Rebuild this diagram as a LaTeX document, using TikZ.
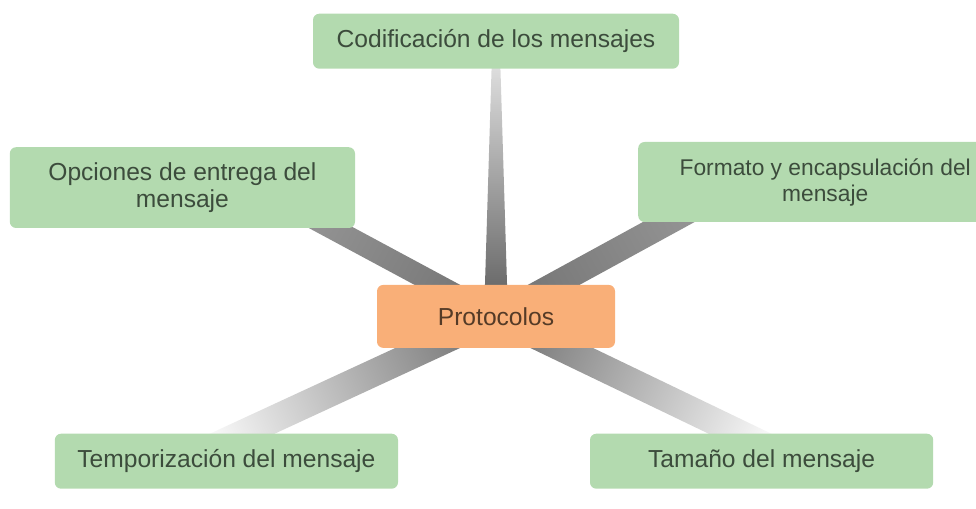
\documentclass[tikz,border=0pt]{standalone}
\usepackage{fontspec}
\setmainfont{Liberation Sans}
\usetikzlibrary{calc,backgrounds}

\definecolor{boxgreen}{HTML}{B3DAAF}
\definecolor{txtgreen}{HTML}{3C4C3C}
\definecolor{hubfill}{HTML}{F9AF78}
\definecolor{txthub}{HTML}{553B27}

\tikzset{
  tema/.style={fill=boxgreen, rounded corners=4.5pt, align=center, inner sep=0pt,
    text=txtgreen, font=\fontsize{17.5}{19.5}\selectfont},
  centro/.style={fill=hubfill, rounded corners=4.5pt, inner sep=0pt,
    text=txthub, font=\fontsize{17.5}{19.5}\selectfont}
}

% wedge from #2 to #3, half widths #4 and #5
\newcommand{\spoke}[5]{%
  \shade[#1] ($(#2)!#4!90:(#3)$) -- ($(#3)!#5!-90:(#2)$)
    -- ($(#3)!#5!90:(#2)$) -- ($(#2)!#4!-90:(#3)$) -- cycle;}

\begin{document}
\begin{tikzpicture}
  \useasboundingbox (0,0) rectangle (24.4,12.7);

  \node[centro, minimum width=5.95cm, minimum height=1.575cm] (hub) at (12.4,4.79) {Protocolos};

  \node[tema, minimum width=9.15cm, minimum height=1.375cm] (cod) at (12.4,11.67) {Codificación de los mensajes};
  \node[tema, minimum width=8.63cm, minimum height=2.02cm] (opc) at (4.56,8.01) {Opciones de entrega del\\mensaje};
  \node[tema, minimum width=9.35cm, minimum height=2.0cm, font=\fontsize{16.2}{18.5}\selectfont] (fmt) at (20.63,8.15) {Formato y encapsulación del\\mensaje};
  \node[tema, minimum width=8.58cm, minimum height=1.375cm] (tmp) at (5.66,1.17) {Temporización del mensaje};
  \node[tema, minimum width=8.58cm, minimum height=1.375cm] (tam) at (19.04,1.17) {Tamaño del mensaje};

  \coordinate (opcEnd) at ($(opc)+(1.85,0)$);
  \coordinate (fmtEnd) at ($(fmt)+(-2.08,0)$);
  \coordinate (tmpEnd) at ($(tmp)+(-1.09,0)$);
  \coordinate (tamEnd) at ($(tam)+(0.89,0)$);

  \begin{scope}[on background layer]
    \spoke{top color=black!8, bottom color=black!64, shading angle=0}{hub}{cod}{0.3cm}{0.09cm}
    \spoke{top color=black!40, bottom color=black!54, shading angle=61.7}{hub}{opcEnd}{0.27cm}{0.27cm}
    \spoke{top color=black!40, bottom color=black!54, shading angle=-61.3}{hub}{fmtEnd}{0.31cm}{0.31cm}
    \spoke{top color=black!2, bottom color=black!52, shading angle=114.6}{hub}{tmpEnd}{0.34cm}{0.34cm}
    \spoke{top color=black!2, bottom color=black!52, shading angle=-115.5}{hub}{tamEnd}{0.34cm}{0.34cm}
  \end{scope}
\end{tikzpicture}
\end{document}
